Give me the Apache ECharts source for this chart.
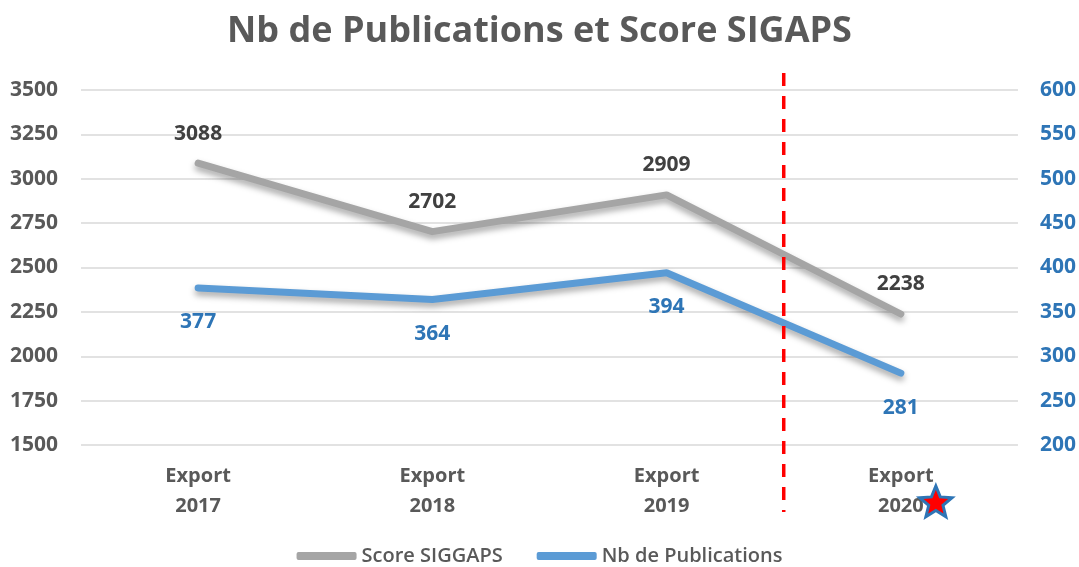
<!DOCTYPE html>
<html>
<head>
<meta charset="utf-8">
<script src="https://cdn.jsdelivr.net/npm/echarts@6/dist/echarts.min.js"></script>
<style>
  html, body { margin: 0; padding: 0; background: #fff; }
  #chart { width: 1079px; height: 567px; }
</style>
</head>
<body>
<div id="chart"></div>
<script>
// Données
const categories = ['Export\n2017', 'Export\n2018', 'Export\n2019', 'Export\n2020'];
const scoreSigaps = [3088, 2702, 2909, 2238];
const nbPublications = [377, 364, 394, 281];

const police = '"Open Sans", Lato, sans-serif';
const gris = '#595959';
const bleuTexte = '#2E75B6';

const chart = echarts.init(document.getElementById('chart'));

const ombre = {
    shadowColor: 'rgba(0,0,0,0.35)',
    shadowBlur: 6,
    shadowOffsetY: 4
};

chart.setOption({
    textStyle: { fontFamily: police },
    title: {
        text: 'Nb de Publications et Score SIGAPS',
        left: 'center',
        top: 9,
        textStyle: { fontSize: 36, fontWeight: 'bold', color: gris, fontFamily: police }
    },
    legend: {
        bottom: -4,
        left: 'center',
        itemWidth: 60,
        itemHeight: 8,
        itemGap: 34,
        icon: 'roundRect',
        textStyle: { fontSize: 20, color: gris, fontWeight: 600, fontFamily: police },
        data: ['Score SIGGAPS', 'Nb de Publications']
    },
    grid: { left: 81, right: 61, top: 90, bottom: 122 },
    xAxis: {
        type: 'category',
        data: categories,
        axisLine: { show: false },
        axisTick: { show: false },
        axisLabel: { fontSize: 20, fontWeight: 'bold', color: gris, margin: 16, lineHeight: 30, fontFamily: police }
    },
    yAxis: [
        {
            type: 'value',
            min: 1500, max: 3500, interval: 250,
            position: 'left',
            axisLabel: {
                fontSize: 21, fontWeight: 'bold', color: gris, margin: 0,
                align: 'left', padding: [0, 0, 0, -71], fontFamily: police,
                formatter: v => String(v)
            },
            splitLine: { lineStyle: { color: '#D9D9D9', width: 1.5 } },
            axisLine: { show: false },
            axisTick: { show: false }
        },
        {
            type: 'value',
            min: 200, max: 600, interval: 50,
            position: 'right',
            axisLabel: { fontSize: 21, fontWeight: 'bold', color: bleuTexte, margin: 22, fontFamily: police },
            splitLine: { show: false },
            axisLine: { show: false },
            axisTick: { show: false }
        }
    ],
    series: [
        {
            name: 'Score SIGGAPS',
            type: 'line',
            yAxisIndex: 0,
            data: scoreSigaps,
            symbol: 'circle',
            symbolSize: 2,
            showSymbol: true,
            itemStyle: { color: '#A5A5A5' },
            lineStyle: Object.assign({ color: '#A5A5A5', width: 7, cap: 'round', join: 'round' }, ombre),
            label: {
                show: true, position: 'top', distance: 18,
                fontSize: 21, fontWeight: 'bold', color: '#404040', fontFamily: police
            },
            labelLayout: { hideOverlap: false },
            z: 3
        },
        {
            name: 'Nb de Publications',
            type: 'line',
            yAxisIndex: 1,
            data: nbPublications,
            symbol: 'circle',
            symbolSize: 2,
            showSymbol: true,
            itemStyle: { color: '#5B9BD5' },
            lineStyle: Object.assign({ color: '#5B9BD5', width: 7, cap: 'round', join: 'round' }, ombre),
            label: {
                show: true, position: 'bottom', distance: 23,
                fontSize: 21, fontWeight: 'bold', color: bleuTexte, fontFamily: police
            },
            labelLayout: { hideOverlap: false },
            z: 3
        }
    ]
});

// Ligne rouge pointillée entre 2019 et 2020, et étoile à côté de 2020
const x19 = chart.convertToPixel({ xAxisIndex: 0 }, 2);
const x20 = chart.convertToPixel({ xAxisIndex: 0 }, 3);
const xSep = (x19 + x20) / 2;

const cx = x20 + 35, cy = 503, rExt = 17, rInt = 7.5;
const pts = [];
for (let i = 0; i < 10; i++) {
    const r = i % 2 === 0 ? rExt : rInt;
    const a = -Math.PI / 2 + i * Math.PI / 5;
    pts.push([cx + r * Math.cos(a), cy + r * Math.sin(a)]);
}

chart.setOption({
    graphic: [
        {
            type: 'line',
            shape: { x1: xSep, y1: 73, x2: xSep, y2: 512 },
            style: { stroke: '#FF0000', lineWidth: 3.5, lineDash: [13, 10] },
            z: 10
        },
        {
            type: 'polygon',
            shape: { points: pts },
            style: { fill: '#FF0000', stroke: '#2E75B6', lineWidth: 3, lineJoin: 'miter' },
            z: 10
        }
    ]
});
</script>
</body>
</html>
